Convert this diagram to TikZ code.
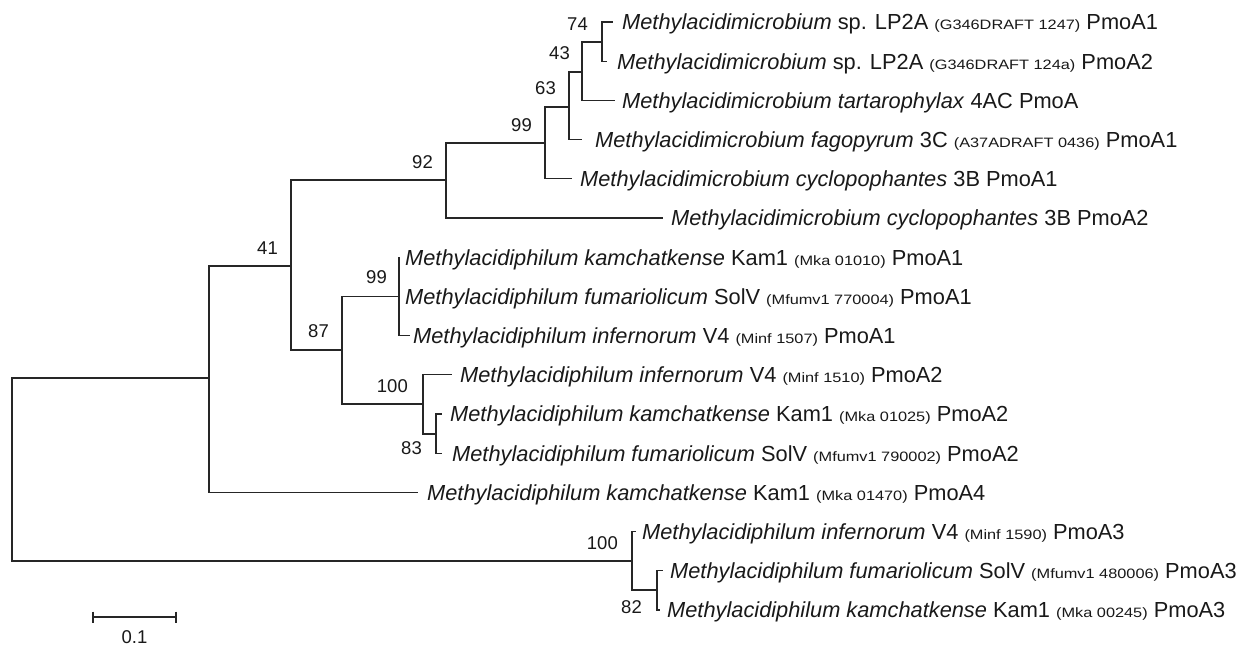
\documentclass[tikz,border=0pt]{standalone}
\usepackage{fontspec}
\usetikzlibrary{calc}
\setmainfont{Liberation Sans}
\newfontfamily\gidfont[FakeStretch=1.2]{Liberation Sans}
\newcommand\gid[1]{{\gidfont\fontsize{13.6}{14}\selectfont(#1)}}
\begin{document}
\begin{tikzpicture}[x=1pt,y=-1pt,
  br/.style={draw=black!85,line width=1.3pt},
  lab/.style={anchor=base west,inner sep=0pt,text=black!90,font=\fontsize{21.8}{22}\selectfont,yshift=-7.8pt},
  bs/.style={anchor=east,inner sep=0pt,text=black!90,font=\fontsize{18.5}{19}\selectfont}]
\fill[white] (0,0) rectangle (1250,648);
\useasboundingbox (0,0) rectangle (1250,648);
% internal nodes
\coordinate (root) at (12,470);
\coordinate (nA) at (209,378);
\coordinate (n41) at (291,266);
\coordinate (n92) at (446,180);
\coordinate (n99a) at (545,143);
\coordinate (n63) at (569,107);
\coordinate (n43) at (582,72);
\coordinate (n74) at (602,42);
\coordinate (n87) at (342,350);
\coordinate (n99b) at (399,296.4);
\coordinate (n100a) at (423,404);
\coordinate (n83) at (436,434);
\coordinate (n100b) at (632,561);
\coordinate (n82) at (657,590);
% leaf tips
\coordinate (t1) at (613,22);
\coordinate (t2) at (607,61.2);
\coordinate (t3) at (615,100.4);
\coordinate (t4) at (582,139.6);
\coordinate (t5) at (572,178.8);
\coordinate (t6) at (663,218);
\coordinate (t7) at (399,257.2);
\coordinate (t8) at (399,296.4);
\coordinate (t9) at (410,335.6);
\coordinate (t10) at (452,374.8);
\coordinate (t11) at (442,414);
\coordinate (t12) at (442,453.2);
\coordinate (t13) at (418,492.4);
\coordinate (t14) at (636,531.6);
\coordinate (t15) at (663,570.8);
\coordinate (t16) at (660,610);
% branches
\draw[br] (root) |- (nA);
\draw[br] (root) |- (n100b);
\draw[br] (nA) |- (n41);
\draw[br] (nA) |- (t13);
\draw[br] (n41) |- (n92);
\draw[br] (n41) |- (n87);
\draw[br] (n92) |- (n99a);
\draw[br] (n92) |- (t6);
\draw[br] (n99a) |- (n63);
\draw[br] (n99a) |- (t5);
\draw[br] (n63) |- (n43);
\draw[br] (n63) |- (t4);
\draw[br] (n43) |- (n74);
\draw[br] (n43) |- (t3);
\draw[br] (n74) |- (t1);
\draw[br] (n74) |- (t2);
\draw[br] (n87) |- (n99b);
\draw[br] (n87) |- (n100a);
\draw[br] (n99b) |- (t7);
\draw[br] (n99b) |- (t8);
\draw[br] (n99b) |- (t9);
\draw[br] (n100a) |- (t10);
\draw[br] (n100a) |- (n83);
\draw[br] (n83) |- (t11);
\draw[br] (n83) |- (t12);
\draw[br] (n100b) |- (t14);
\draw[br] (n100b) |- (n82);
\draw[br] (n82) |- (t15);
\draw[br] (n82) |- (t16);
% leaf labels
\node[lab] (L1) at (622,22) {\textit{Methylacidimicrobium} sp. LP2A \gid{G346DRAFT 1247} PmoA1};
\node[lab] (L2) at (617,61.2) {\textit{Methylacidimicrobium} sp. LP2A \gid{G346DRAFT 124a} PmoA2};
\node[lab] (L3) at (622,100.4) {\textit{Methylacidimicrobium tartarophylax} 4AC PmoA};
\node[lab] (L4) at (595,139.6) {\textit{Methylacidimicrobium fagopyrum} 3C \gid{A37ADRAFT 0436} PmoA1};
\node[lab] (L5) at (580,178.8) {\textit{Methylacidimicrobium cyclopophantes} 3B PmoA1};
\node[lab] (L6) at (671,218) {\textit{Methylacidimicrobium cyclopophantes} 3B PmoA2};
\node[lab] (L7) at (405,257.2) {\textit{Methylacidiphilum kamchatkense} Kam1 \gid{Mka 01010} PmoA1};
\node[lab] (L8) at (405,296.4) {\textit{Methylacidiphilum fumariolicum} SolV \gid{Mfumv1 770004} PmoA1};
\node[lab] (L9) at (413,335.6) {\textit{Methylacidiphilum infernorum} V4 \gid{Minf 1507} PmoA1};
\node[lab] (L10) at (460,374.8) {\textit{Methylacidiphilum infernorum} V4 \gid{Minf 1510} PmoA2};
\node[lab] (L11) at (450,414) {\textit{Methylacidiphilum kamchatkense} Kam1 \gid{Mka 01025} PmoA2};
\node[lab] (L12) at (452,453.2) {\textit{Methylacidiphilum fumariolicum} SolV \gid{Mfumv1 790002} PmoA2};
\node[lab] (L13) at (427,492.4) {\textit{Methylacidiphilum kamchatkense} Kam1 \gid{Mka 01470} PmoA4};
\node[lab] (L14) at (642,531.6) {\textit{Methylacidiphilum infernorum} V4 \gid{Minf 1590} PmoA3};
\node[lab] (L15) at (670,570.8) {\textit{Methylacidiphilum fumariolicum} SolV \gid{Mfumv1 480006} PmoA3};
\node[lab] (L16) at (667,610) {\textit{Methylacidiphilum kamchatkense} Kam1 \gid{Mka 00245} PmoA3};
% bootstrap values
\node[bs] (b74) at (588,24) {74};
\node[bs] (b43) at (570,53) {43};
\node[bs] (b63) at (556,88) {63};
\node[bs] (b99a) at (532,125) {99};
\node[bs] (b92) at (433,162) {92};
\node[bs] (b41) at (278,248) {41};
\node[bs] (b99b) at (387,277) {99};
\node[bs] (b87) at (329,331) {87};
\node[bs] (b100a) at (408,386) {100};
\node[bs] (b83) at (422,448) {83};
\node[bs] (b100b) at (618,543) {100};
\node[bs] (b82) at (642,607) {82};
% scale bar
\coordinate (s1) at (93,617);
\coordinate (s2) at (176,617);
\draw[br,line width=1.2pt] (s1) -- (s2);
\draw[br,line width=1.2pt] ($(s1)+(0,-5.5)$) -- ($(s1)+(0,5.5)$);
\draw[br,line width=1.2pt] ($(s2)+(0,-5.5)$) -- ($(s2)+(0,5.5)$);
\node[bs,anchor=center] (sbl) at (134.5,637) {0.1};
\end{tikzpicture}
\end{document}
